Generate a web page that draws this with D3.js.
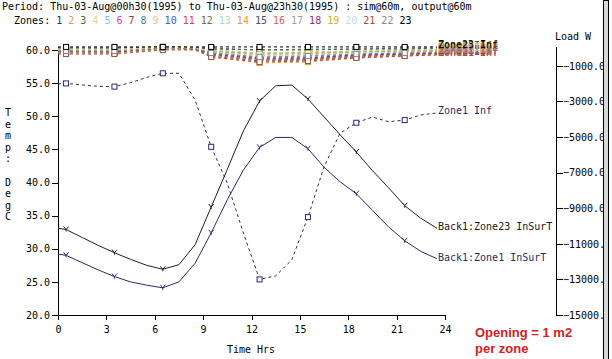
<!DOCTYPE html>
<html><head><meta charset="utf-8">
<script src="https://cdn.jsdelivr.net/npm/d3@7"></script>
<style>
html,body{margin:0;padding:0;background:#fff;}
svg{display:block;}
text{font-family:"DejaVu Sans Mono",monospace;font-size:10px;}
</style></head><body>
<script>
// ---------- data ----------
const titleText = "Period: Thu-03-Aug@00h30(1995) to Thu-03-Aug@23h30(1995) : sim@60m, output@60m";
const zoneNames = ["1","2","3","4","5","6","7","8","9","10","11","12","13","14","15","16","17","18","19","20","21","22","23"];
const zoneColors = ["#2a2a6e","#c8a070","#3c7040","#f0d080","#70c8d8","#d840c8","#904040","#3c8890",
  "#d8c8a0","#4060c8","#e04040","#707040","#b0e0b0","#e0a030","#505060","#e06060","#a0a0a0",
  "#903070","#c8b820","#c0e0e8","#a05040","#888888","#000000"];
const xTicks = [0,3,6,9,12,15,18,21,24];
const yTicksLeft = [20,25,30,35,40,45,50,55,60];
const yTicksRight = [-1000,-3000,-5000,-7000,-9000,-11000,-13000,-15000];
const markerHours = [0.5,3.5,6.5,9.5,12.5,15.5,18.5,21.5];

// hourly output (plus axis start)
const hours = [0,0.5,1.5,2.5,3.5,4.5,5.5,6.5,7.5,8.5,9.5,10.5,11.5,12.5,13.5,14.5,15.5,16.5,17.5,18.5,19.5,20.5,21.5,22.5,23.5];
const zone23InSurT = [33.1,32.9,31.7,30.5,29.4,28.4,27.5,26.9,27.6,30.6,36.3,42.0,47.8,52.3,54.6,54.7,52.6,49.9,47.2,44.6,41.8,39.2,36.5,34.6,33.1];
const zone1InSurT  = [29.2,29.0,27.9,26.8,25.8,25.0,24.5,24.1,25.0,27.8,32.4,37.4,41.9,45.3,46.8,46.8,45.1,42.3,40.1,38.3,35.8,33.3,31.2,29.6,28.5];
const zone1Inf     = [-2020,-1990,-2080,-2150,-2170,-1950,-1650,-1420,-1420,-2920,-5550,-7600,-10400,-13000,-12800,-11900,-9500,-6670,-4780,-4200,-3880,-4140,-4050,-3760,-3650];

// zones 2..23 infiltration (W), read at these hours
const infHours = [0,0.5,3.5,6.5,8.5,9.5,12.5,15.5,18.5,21.5,23.5];
const zone2Inf  = [-60,-60,-60,30,0,-110,-280,-220,-170,-110,-110];
const zone3Inf  = [0,0,0,60,30,0,-110,-60,-60,0,0];
const zone4Inf  = [-110,-110,-110,0,-30,-220,-390,-340,-220,-170,-170];
const zone5Inf  = [-170,-170,-170,0,-30,-280,-560,-510,-340,-280,-220];
const zone6Inf  = [-220,-220,-220,0,-60,-390,-620,-620,-450,-340,-280];
const zone7Inf  = [-280,-280,-280,-60,-60,-450,-730,-670,-510,-390,-340];
const zone8Inf  = [-110,-110,-110,0,-30,-280,-510,-450,-340,-220,-220];
const zone9Inf  = [-60,-60,-60,0,0,-170,-390,-340,-220,-170,-110];
const zone10Inf = [-170,-170,-170,0,-30,-340,-620,-560,-390,-280,-280];
const zone11Inf = [-110,-110,-110,0,-30,-220,-280,-280,-220,-170,-170];
const zone12Inf = [-220,-220,-220,-60,-60,-390,-670,-620,-450,-340,-280];
const zone13Inf = [-60,-60,-60,60,30,-110,-280,-220,-170,-110,-60];
const zone14Inf = [-280,-280,-280,-60,-90,-510,-840,-790,-560,-450,-390];
const zone15Inf = [0,0,0,60,30,-60,-110,-110,-60,-60,0];
const zone16Inf = [-220,-220,-220,0,-60,-390,-670,-670,-510,-390,-340];
const zone17Inf = [-110,-110,-110,0,-30,-220,-450,-390,-280,-220,-170];
const zone18Inf = [-170,-170,-220,0,-60,-340,-560,-560,-390,-340,-280];
const zone19Inf = [-60,-60,-110,60,0,-170,-340,-280,-220,-170,-110];
const zone20Inf = [-110,-110,-110,0,-30,-220,-450,-390,-280,-220,-220];
const zone21Inf = [-340,-340,-340,-110,-110,-510,-790,-730,-560,-450,-390];
const zone22Inf = [-170,-170,-170,0,-30,-280,-510,-450,-340,-280,-220];
const zone23Inf = [60,60,60,60,60,60,60,60,60,60,60];
const otherInf = [zone2Inf,zone3Inf,zone4Inf,zone5Inf,zone6Inf,zone7Inf,zone8Inf,zone9Inf,zone10Inf,zone11Inf,
  zone12Inf,zone13Inf,zone14Inf,zone15Inf,zone16Inf,zone17Inf,zone18Inf,zone19Inf,zone20Inf,zone21Inf,zone22Inf,zone23Inf];

// ---------- drawing ----------
const W = 612, H = 359;
const svg = d3.select("body").append("svg").attr("width", W).attr("height", H);

const x = d3.scaleLinear([0,24],[58,445]);
const yL = d3.scaleLinear([20,60],[315,50]);
const yR = d3.scaleLinear([0,-15000],[48,315]);

// header
svg.append("text").attr("x",2).attr("y",10).text(titleText);
const zt = svg.append("text").attr("x",2).attr("y",24).attr("xml:space","preserve");
zt.append("tspan").text("  Zones:");
zoneNames.forEach((z,i)=>{ zt.append("tspan").attr("fill",zoneColors[i]).text(" "+z); });

// Y title (vertical letters)
const yTitle = "Temp: DegC".split("");
svg.append("g").selectAll("text").data(yTitle).join("text")
  .attr("x",8).attr("y",(d,i)=>116+i*11.6).attr("text-anchor","middle").text(d=>d);

// axes
function styleAxis(g){ g.attr("font-family",null).attr("font-size",null);
  g.selectAll("line,path").attr("stroke","#000").attr("shape-rendering","crispEdges");
  g.selectAll("text").attr("fill","#000"); }

svg.append("g").attr("transform","translate(0,315)")
  .call(d3.axisBottom(x).tickValues(xTicks).tickFormat(d3.format("d")).tickSize(5).tickPadding(6).tickSizeOuter(0))
  .call(styleAxis);
svg.append("g").attr("transform","translate(58,0)")
  .call(d3.axisLeft(yL).tickValues(yTicksLeft).tickFormat(d3.format(".1f")).tickSize(6).tickPadding(2).tickSizeOuter(0))
  .call(styleAxis);
svg.append("line").attr("x1",58).attr("x2",58).attr("y1",47).attr("y2",315).attr("stroke","#000").attr("shape-rendering","crispEdges");
svg.append("g").attr("transform","translate(556,0)")
  .call(d3.axisRight(yR).tickValues(yTicksRight).tickFormat(d=>d3.format(".1f")(d).slice(0,7)).tickSize(7).tickPadding(0).tickSizeOuter(0))
  .call(styleAxis);
svg.append("line").attr("x1",556).attr("x2",556).attr("y1",47).attr("y2",315).attr("stroke","#000").attr("shape-rendering","crispEdges");

svg.append("text").attr("x",555).attr("y",40).text("Load W");
svg.append("text").attr("x",251).attr("y",353).attr("text-anchor","middle").text("Time Hrs");

// series
const plot = svg.append("g");
function isMarker(h){ return markerHours.includes(h); }

function drawInf(hs, vals, color, label){
  const pts = hs.map((h,i)=>[h,vals[i]]);
  plot.append("path").datum(pts)
    .attr("d", d3.line().x(d=>x(d[0])).y(d=>yR(d[1])))
    .attr("fill","none").attr("stroke",color).attr("stroke-width",1).attr("stroke-dasharray","3,3");
  plot.append("g").selectAll("rect").data(pts.filter(d=>isMarker(d[0]))).join("rect")
    .attr("x",d=>x(d[0])-2.5).attr("y",d=>yR(d[1])-2.5).attr("width",5).attr("height",5)
    .attr("fill","#fff").attr("stroke",color);
  const last = pts[pts.length-1];
  plot.append("text").attr("x",x(last[0])+1).attr("y",yR(last[1])+1).attr("fill",color).text(label);
}
function drawSurf(vals, color, label){
  const pts = hours.map((h,i)=>[h,vals[i]]);
  plot.append("path").datum(pts)
    .attr("d", d3.line().x(d=>x(d[0])).y(d=>yL(d[1])))
    .attr("fill","none").attr("stroke",color).attr("stroke-width",1);
  plot.append("g").selectAll("path").data(pts.filter(d=>isMarker(d[0]))).join("path")
    .attr("transform",d=>`translate(${x(d[0])},${yL(d[1])})`)
    .attr("d","M-2.5,-3L0,0L2.5,-3M0,0L0,2").attr("fill","none").attr("stroke",color);
  const last = pts[pts.length-1];
  plot.append("text").attr("x",x(last[0])+1).attr("y",yL(last[1])+2).attr("fill",color).text(label);
}

otherInf.forEach((vals,i)=>{ drawInf(infHours, vals, zoneColors[i+1], "Zone"+zoneNames[i+1]+" Inf"); });
drawInf(hours, zone1Inf, zoneColors[0], "Zone1 Inf");
drawSurf(zone23InSurT, "#202020", "Back1:Zone23 InSurT");
drawSurf(zone1InSurT, zoneColors[0], "Back1:Zone1 InSurT");

// note
const note = svg.append("g").attr("fill","#d42020").attr("font-weight","bold");
note.append("text").attr("x",475).attr("y",337).style("font-family","'Liberation Sans',Arial,sans-serif").style("font-size","13px").text("Opening = 1 m2");
note.append("text").attr("x",475).attr("y",353).style("font-family","'Liberation Sans',Arial,sans-serif").style("font-size","13px").text("per zone");

// right frame band
svg.append("rect").attr("x",603.5).attr("y",0).attr("width",5).attr("height",H)
  .attr("fill","#d8d8d8").attr("stroke","#000").attr("shape-rendering","crispEdges");
svg.append("rect").attr("x",609).attr("y",0).attr("width",3).attr("height",H).attr("fill","#fff");
</script>
</body></html>
